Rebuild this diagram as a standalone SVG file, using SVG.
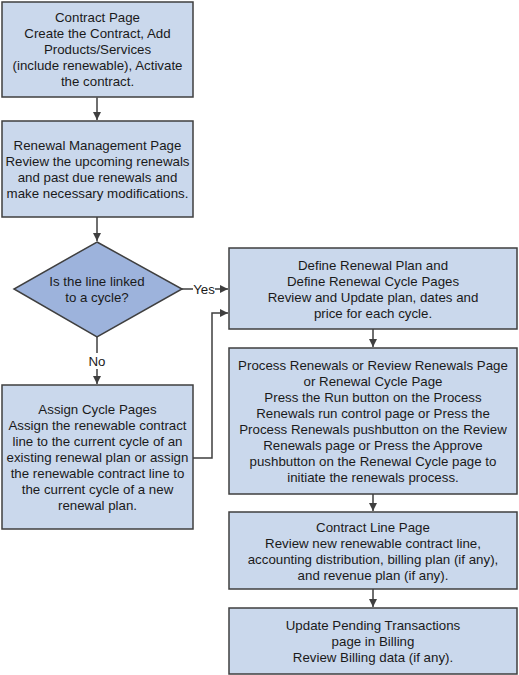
<svg xmlns="http://www.w3.org/2000/svg" width="519" height="675" viewBox="0 0 519 675">
<style>
.box{fill:#cad8ec;stroke:#3f3f3f;stroke-width:1.5}
.dia{fill:#9db3dc;stroke:#3f3f3f;stroke-width:1.5}
text{font-family:"Liberation Sans",Arial,sans-serif;font-size:13.3px;fill:#1a1a1a;text-anchor:middle}
.ln{fill:none;stroke:#3f3f3f;stroke-width:1.5}
.lbl{fill:#ffffff;stroke:none}
</style>
<defs>
<marker id="ah" viewBox="0 0 10 10" refX="10" refY="5" markerWidth="8" markerHeight="8" markerUnits="userSpaceOnUse" orient="auto">
<path d="M0,0 L10,5 L0,10 z" fill="#3f3f3f"/>
</marker>
</defs>
<g id="connectors">
<path class="ln" d="M97,97.5 V120" marker-end="url(#ah)"/>
<path class="ln" d="M97,217 V241" marker-end="url(#ah)"/>
<path class="ln" d="M182,289 H228" marker-end="url(#ah)"/>
<rect class="lbl" x="193" y="281" width="22" height="15"/>
<text x="204" y="293.5">Yes</text>
<path class="ln" d="M97,337 V384" marker-end="url(#ah)"/>
<rect class="lbl" x="86" y="353" width="22" height="16"/>
<text x="97" y="365.5">No</text>
<path class="ln" d="M193,458 H212 V313 H228" marker-end="url(#ah)"/>
<path class="ln" d="M373,329 V347" marker-end="url(#ah)"/>
<path class="ln" d="M373,494 V511" marker-end="url(#ah)"/>
<path class="ln" d="M373,589 V607" marker-end="url(#ah)"/>
</g>
<g id="contract-page">
<rect class="box" x="2" y="2" width="191" height="95"/>
<text x="97.5" y="21.5">Contract Page</text>
<text x="97.5" y="37.5">Create the Contract, Add</text>
<text x="97.5" y="53.5">Products/Services</text>
<text x="97.5" y="69.5">(include renewable), Activate</text>
<text x="97.5" y="85.5">the contract.</text>
</g>
<g id="renewal-management">
<rect class="box" x="2" y="121" width="191" height="96"/>
<text x="97.5" y="149.5">Renewal Management Page</text>
<text x="97.5" y="165.5">Review the upcoming renewals</text>
<text x="97.5" y="181.5">and past due renewals and</text>
<text x="97.5" y="197.5">make necessary modifications.</text>
</g>
<g id="decision">
<polygon class="dia" points="97,242 182,289 97,337 14,289"/>
<text x="97" y="285.5">Is the line linked</text>
<text x="97" y="302">to a cycle?</text>
</g>
<g id="assign-cycle">
<rect class="box" x="2" y="385" width="191" height="144"/>
<text x="97.5" y="413.5">Assign Cycle Pages</text>
<text x="97.5" y="429.5">Assign the renewable contract</text>
<text x="97.5" y="445.5">line to the current cycle of an</text>
<text x="97.5" y="461.5">existing renewal plan or assign</text>
<text x="97.5" y="477.5">the renewable contract line to</text>
<text x="97.5" y="493.5">the current cycle of a new</text>
<text x="97.5" y="509.5">renewal plan.</text>
</g>
<g id="define-renewal-plan">
<rect class="box" x="229" y="248" width="288" height="81"/>
<text x="373" y="269.5">Define Renewal Plan and</text>
<text x="373" y="285.5">Define Renewal Cycle Pages</text>
<text x="373" y="301.5">Review and Update plan, dates and</text>
<text x="373" y="317.5">price for each cycle.</text>
</g>
<g id="process-renewals">
<rect class="box" x="229" y="348" width="288" height="146"/>
<text x="373" y="369.5">Process Renewals or Review Renewals Page</text>
<text x="373" y="385.5">or Renewal Cycle Page</text>
<text x="373" y="401.5">Press the Run button on the Process</text>
<text x="373" y="417.5">Renewals run control page or Press the</text>
<text x="373" y="433.5">Process Renewals pushbutton on the Review</text>
<text x="373" y="449.5">Renewals page or Press the Approve</text>
<text x="373" y="465.5">pushbutton on the Renewal Cycle page to</text>
<text x="373" y="481.5">initiate the renewals process.</text>
</g>
<g id="contract-line">
<rect class="box" x="229" y="512" width="288" height="77"/>
<text x="373" y="531.5">Contract Line Page</text>
<text x="373" y="547.5">Review new renewable contract line,</text>
<text x="373" y="563.5">accounting distribution, billing plan (if any),</text>
<text x="373" y="579.5">and revenue plan (if any).</text>
</g>
<g id="update-pending">
<rect class="box" x="229" y="608" width="288" height="66"/>
<text x="373" y="629.5">Update Pending Transactions</text>
<text x="373" y="645.5">page in Billing</text>
<text x="373" y="661.5">Review Billing data (if any).</text>
</g>
</svg>
